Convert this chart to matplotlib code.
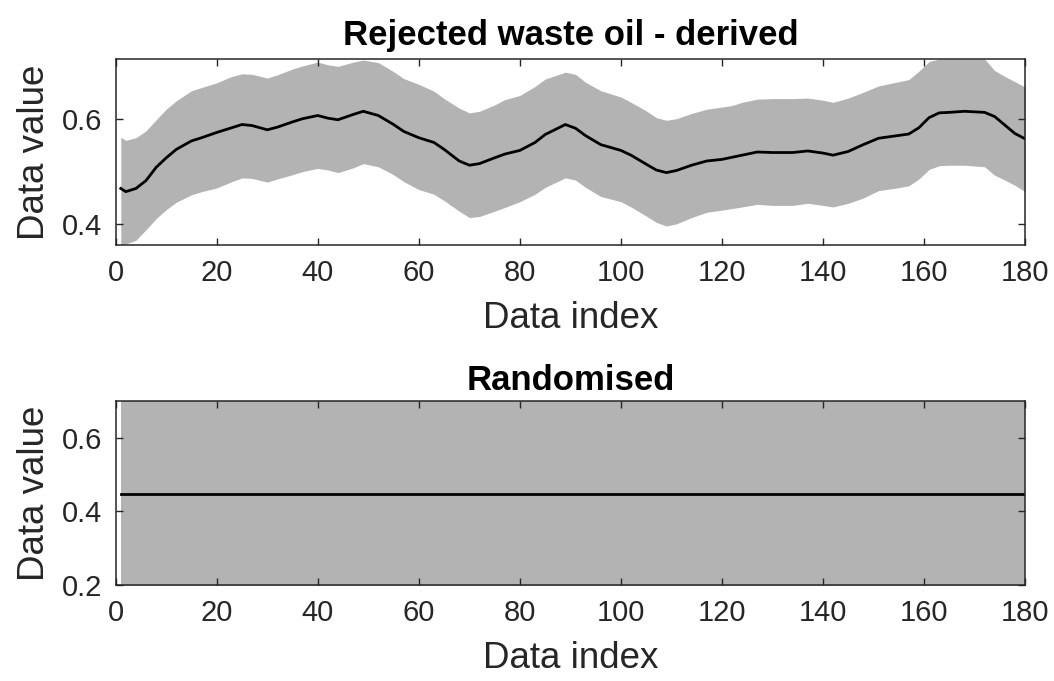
import numpy as np
import matplotlib.pyplot as plt

plt.rcParams['font.family'] = ['Liberation Sans', 'DejaVu Sans']

# data index knots
idx = [1, 2, 4, 6, 8, 10, 12, 15, 17, 20, 23, 25, 27, 30, 32, 35, 37, 40, 42, 44,
       47, 49, 52, 55, 57, 60, 63, 65, 68, 70, 72, 75, 77, 80, 83, 85, 89, 91, 93, 96,
       100, 102, 105, 107, 109, 111, 114, 117, 120, 122, 124, 127, 130, 134, 137, 140,
       142, 145, 148, 151, 154, 157, 159, 161, 163, 165, 168, 172, 174, 176, 178, 180]
mean_val = [0.468, 0.462, 0.468, 0.483, 0.508, 0.526, 0.542, 0.558, 0.564, 0.574,
            0.583, 0.589, 0.587, 0.579, 0.584, 0.594, 0.600, 0.606, 0.601, 0.598,
            0.608, 0.614, 0.606, 0.589, 0.576, 0.564, 0.555, 0.542, 0.520, 0.512,
            0.515, 0.526, 0.533, 0.540, 0.555, 0.570, 0.589, 0.582, 0.568, 0.551,
            0.540, 0.531, 0.514, 0.503, 0.498, 0.502, 0.512, 0.520, 0.523, 0.527,
            0.531, 0.537, 0.536, 0.536, 0.539, 0.535, 0.531, 0.538, 0.551, 0.563,
            0.567, 0.571, 0.583, 0.602, 0.611, 0.612, 0.614, 0.612, 0.604, 0.588,
            0.572, 0.562]
upper_val = [0.565, 0.559, 0.564, 0.577, 0.598, 0.618, 0.634, 0.653, 0.659, 0.668,
             0.680, 0.685, 0.684, 0.677, 0.683, 0.694, 0.700, 0.707, 0.702, 0.699,
             0.707, 0.711, 0.706, 0.689, 0.676, 0.665, 0.652, 0.638, 0.620, 0.611,
             0.614, 0.626, 0.636, 0.644, 0.661, 0.675, 0.688, 0.684, 0.669, 0.653,
             0.641, 0.631, 0.615, 0.602, 0.597, 0.600, 0.610, 0.618, 0.622, 0.625,
             0.631, 0.637, 0.638, 0.638, 0.639, 0.635, 0.631, 0.639, 0.650, 0.662,
             0.668, 0.674, 0.690, 0.708, 0.713, 0.713, 0.713, 0.713, 0.691, 0.680,
             0.670, 0.660]
lower_val = [0.361, 0.363, 0.370, 0.390, 0.411, 0.428, 0.442, 0.456, 0.462, 0.469,
             0.481, 0.488, 0.487, 0.480, 0.486, 0.494, 0.500, 0.506, 0.503, 0.498,
             0.507, 0.515, 0.509, 0.494, 0.481, 0.466, 0.457, 0.445, 0.425, 0.413,
             0.415, 0.425, 0.432, 0.443, 0.457, 0.470, 0.488, 0.484, 0.470, 0.453,
             0.443, 0.433, 0.416, 0.404, 0.397, 0.401, 0.413, 0.423, 0.427, 0.430,
             0.433, 0.438, 0.436, 0.436, 0.440, 0.436, 0.433, 0.440, 0.450, 0.464,
             0.468, 0.473, 0.486, 0.504, 0.511, 0.512, 0.512, 0.509, 0.493, 0.484,
             0.474, 0.462]

# randomised panel: flat mean, band wider than the axis
rand_idx = [1, 180]
rand_mean = [0.448, 0.448]
rand_upper = [0.85, 0.85]
rand_lower = [0.05, 0.05]

xticks = [0, 20, 40, 60, 80, 100, 120, 140, 160, 180]
band_col = '#b3b3b3'
axis_col = '#262626'

fig = plt.figure(figsize=(10.54, 6.81), dpi=100)
ax1 = fig.add_axes([0.1098, 0.6402, 0.8627, 0.2732])
ax2 = fig.add_axes([0.1098, 0.1410, 0.8627, 0.2706])

ax1.fill_between(idx, lower_val, upper_val, color=band_col, linewidth=0)
ax1.plot(idx, mean_val, color='black', linewidth=2.0)
ax1.set_ylim(0.361, 0.713)
ax1.set_yticks([0.4, 0.6])
ax1.set_title("Rejected waste oil - derived", fontsize=25, fontweight='bold', pad=10)

ax2.fill_between(rand_idx, rand_lower, rand_upper, color=band_col, linewidth=0)
ax2.plot(rand_idx, rand_mean, color='black', linewidth=2.0)
ax2.set_ylim(0.2, 0.7)
ax2.set_yticks([0.2, 0.4, 0.6])
ax2.set_title("Randomised", fontsize=25, fontweight='bold', pad=8)

for ax in [ax1, ax2]:
    ax.set_xlim(0, 180)
    ax.set_xticks(xticks)
    ax.set_xlabel("Data index", fontsize=26.5, color=axis_col, labelpad=10)
    ax.set_ylabel("Data value", fontsize=26.5, color=axis_col, labelpad=7)
    ax.tick_params(direction='in', top=True, right=True, length=5, width=1,
                   labelsize=21, colors=axis_col, pad=10)
    for s in ax.spines.values():
        s.set_color(axis_col)
        s.set_linewidth(1.1)

fig.savefig('out.png', dpi=100)
